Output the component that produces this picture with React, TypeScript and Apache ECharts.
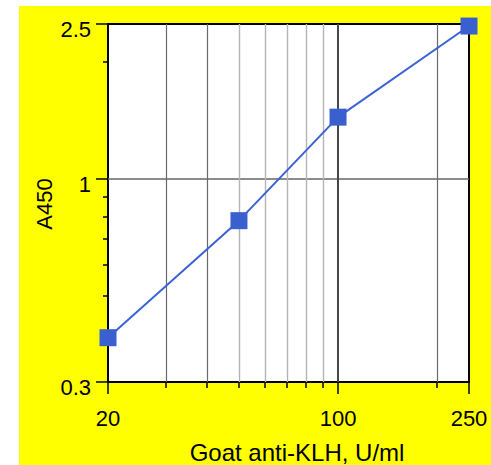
import React, { useEffect, useRef } from "react";
import * as echarts from "echarts";

// Data
const concentrations = [20, 50, 100, 250];
const absorbance = [0.39, 0.78, 1.44, 2.47];

// Axis ticks
const xMajorTicks = [20, 100, 250];
const xMinorDarkTicks = [30, 40, 200];
const xMinorLightTicks = [50, 60, 70, 80, 90];
const yMajorTicks = [0.3, 1, 2.5];
const yMinorTicks = [0.4, 0.5, 0.6, 0.7, 0.8, 0.9, 2];

const xTitle = "Goat anti-KLH, U/ml";
const yTitle = "A450";

const FONT = "'Liberation Sans', Arial, sans-serif";

export default function App() {
  const ref = useRef<HTMLDivElement>(null);

  useEffect(() => {
    if (!ref.current) return;
    const chart = echarts.init(ref.current, null, { renderer: "svg" });
    const fmt = (v: number) => String(Math.round(v * 100) / 100);

    const xBase = {
      type: "log" as const,
      logBase: 10,
      min: 20,
      max: 250,
      position: "bottom" as const,
      gridIndex: 0,
      axisLine: { show: false, onZero: false },
    };
    const yBase = {
      type: "log" as const,
      logBase: 10,
      min: 0.3,
      max: 2.5,
      position: "left" as const,
      gridIndex: 0,
      axisLine: { show: false, onZero: false },
    };

    chart.setOption({
      animation: false,
      backgroundColor: "#ffffff",
      graphic: [
        {
          type: "rect",
          z: -5,
          shape: { x: 19, y: 6, width: 472, height: 459 },
          style: { fill: "#ffff00" },
          silent: true,
        },
        {
          type: "text",
          x: 297,
          y: 452,
          style: {
            text: xTitle,
            fontSize: 24,
            fontFamily: FONT,
            fill: "#000",
            textAlign: "center",
            textVerticalAlign: "middle",
          },
        },
        {
          type: "text",
          x: 44.5,
          y: 204,
          rotation: Math.PI / 2,
          style: {
            text: yTitle,
            fontSize: 22,
            fontFamily: FONT,
            fill: "#000",
            textAlign: "center",
            textVerticalAlign: "middle",
          },
        },
      ],
      grid: {
        left: 108,
        top: 24,
        width: 361,
        height: 358,
        show: true,
        backgroundColor: "#ffffff",
        borderColor: "#000000",
        borderWidth: 2,
        containLabel: false,
        outerBoundsMode: "none",
      },
      xAxis: [
        {
          ...xBase,
          axisTick: {
            show: true,
            length: 12,
            lineStyle: { color: "#000", width: 1.5 },
            customValues: xMajorTicks,
          },
          axisLabel: {
            show: true,
            customValues: xMajorTicks,
            fontSize: 22,
            fontFamily: FONT,
            color: "#000",
            margin: 25,
            formatter: fmt,
          },
          splitLine: {
            show: true,
            showMinLine: false,
            showMaxLine: false,
            lineStyle: { color: "#484848", width: 2 },
          },
        },
        {
          ...xBase,
          axisTick: {
            show: true,
            length: 6,
            lineStyle: { color: "#000", width: 1.5 },
            customValues: xMinorDarkTicks,
          },
          axisLabel: { show: false },
          splitLine: {
            show: true,
            lineStyle: { color: "#6a6a6a", width: 1.2 },
          },
        },
        {
          ...xBase,
          axisTick: {
            show: true,
            length: 6,
            lineStyle: { color: "#000", width: 1.5 },
            customValues: xMinorLightTicks,
          },
          axisLabel: { show: false },
          splitLine: {
            show: true,
            lineStyle: { color: "#b4b4b4", width: 1.4 },
          },
        },
      ],
      yAxis: [
        {
          ...yBase,
          axisTick: {
            show: true,
            length: 12,
            lineStyle: { color: "#000", width: 1.5 },
            customValues: yMajorTicks,
          },
          axisLabel: {
            show: true,
            customValues: yMajorTicks,
            fontSize: 22,
            fontFamily: FONT,
            color: "#000",
            margin: 17,
            verticalAlign: "top",
            lineHeight: 11,
            formatter: fmt,
          },
          splitLine: {
            show: true,
            showMinLine: false,
            showMaxLine: false,
            lineStyle: { color: "#666666", width: 1.6 },
          },
        },
        {
          ...yBase,
          axisTick: {
            show: true,
            length: 5,
            lineStyle: { color: "#000", width: 1.5 },
            customValues: yMinorTicks,
          },
          axisLabel: { show: false },
          splitLine: { show: false },
        },
      ],
      series: [
        {
          type: "line",
          xAxisIndex: 0,
          yAxisIndex: 0,
          data: concentrations.map((c, i) => [c, absorbance[i]]),
          symbol: "rect",
          symbolSize: 17,
          clip: false,
          lineStyle: { color: "#3b63d6", width: 2 },
          itemStyle: { color: "#3a60d0" },
          z: 10,
        },
      ],
    });

    return () => chart.dispose();
  }, []);

  return (
    <div
      ref={ref}
      style={{ position: "fixed", left: 0, top: 0, width: 491, height: 465 }}
    />
  );
}
